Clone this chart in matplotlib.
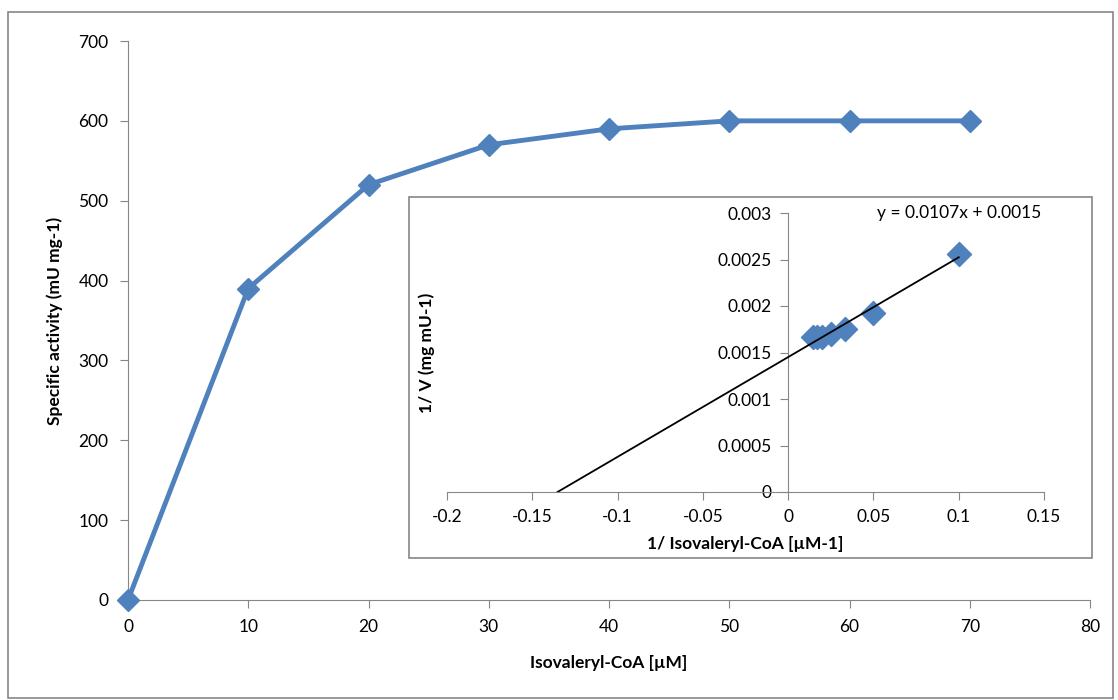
import matplotlib
matplotlib.use("Agg")
import matplotlib.pyplot as plt
import numpy as np
from matplotlib.patches import Rectangle

plt.rcParams['font.family'] = ['Lato', 'DejaVu Sans']

# Data
substrate = [0, 10, 20, 30, 40, 50, 60, 70]
activity = [0, 390, 520, 570, 590, 600, 600, 600]

inv_s = [1/s for s in substrate[1:]]
inv_v = [1/v for v in activity[1:]]

main_xticks = [0, 10, 20, 30, 40, 50, 60, 70, 80]
main_yticks = [0, 100, 200, 300, 400, 500, 600, 700]
inset_xticks = [-0.2, -0.15, -0.1, -0.05, 0, 0.05, 0.1, 0.15]
inset_yticks = [0, 0.0005, 0.001, 0.0015, 0.002, 0.0025, 0.003]
inset_xticklabels = ['-0.2', '-0.15', '-0.1', '-0.05', '0', '0.05', '0.1', '0.15']
inset_yticklabels = ['0', '0.0005', '0.001', '0.0015', '0.002', '0.0025', '0.003']

blue = '#4F81BD'
grey = '#868686'

fig = plt.figure(figsize=(11.18, 7.0), dpi=100)
fig.patches.append(Rectangle((8/1118, 2/700), 1105/1118, 686/700, transform=fig.transFigure,
                             fill=False, edgecolor=grey, linewidth=1.2))

ax = fig.add_axes([128/1118, 100/700, 962/1118, 559/700])
ax.plot(substrate, activity, color=blue, lw=3.5, marker='D', ms=11, mfc=blue, mec=blue, clip_on=False, zorder=3)
ax.set_xlim(0, 80)
ax.set_ylim(0, 700)
ax.set_xticks(main_xticks)
ax.set_yticks(main_yticks)
for s in ['top', 'right']:
    ax.spines[s].set_visible(False)
for s in ['left', 'bottom']:
    ax.spines[s].set_color(grey)
ax.tick_params(direction='out', length=6, color=grey, labelsize=12.5, pad=8)
ax.set_xlabel('Isovaleryl-CoA [µM]', fontsize=12.5, fontweight='bold', labelpad=14)
ax.set_ylabel('Specific activity (mU mg-1)', fontsize=12.5, fontweight='bold')
ax.yaxis.set_label_coords(-65/962, 0.5)

# inset box
fig.patches.append(Rectangle((409/1118, (700-558)/700), 683/1118, 361/700, transform=fig.transFigure,
                             fill=True, facecolor='white', edgecolor=grey, linewidth=1.2, zorder=5))

ins = fig.add_axes([447/1118, 208/700, 597/1118, 279/700], zorder=6)
ins.patch.set_alpha(0)
ins.scatter(inv_s, inv_v, marker='D', s=150, color=blue, zorder=3)
slope, intercept = np.polyfit(inv_s, inv_v, 1)
x0 = -intercept/slope
xs = np.array([x0, max(inv_s)])
ins.plot(xs, slope*xs + intercept, color='black', lw=1.3, zorder=4)
ins.set_xlim(-0.2, 0.15)
ins.set_ylim(0, 0.003)
ins.set_xticks(inset_xticks)
ins.set_xticklabels(inset_xticklabels)
ins.set_yticks(inset_yticks)
ins.set_yticklabels(inset_yticklabels)
for s in ['top', 'right']:
    ins.spines[s].set_visible(False)
ins.spines['left'].set_position(('data', 0))
ins.spines['left'].set_color(grey)
ins.spines['bottom'].set_color(grey)
ins.tick_params(direction='out', length=6, color=grey, labelsize=12.5, pad=6)
ins.set_xlabel('1/ Isovaleryl-CoA [µM-1]', fontsize=12.5, fontweight='bold', labelpad=8)
ins.set_ylabel('1/ V (mg mU-1)', fontsize=12.5, fontweight='bold', labelpad=0)
ins.yaxis.set_label_coords(-0.02, 0.5)
ins.text(0.995, 1.0, 'y = 0.0107x + 0.0015', transform=ins.transAxes, ha='right', va='center', fontsize=12.5)

fig.savefig('out.png', dpi=100)
